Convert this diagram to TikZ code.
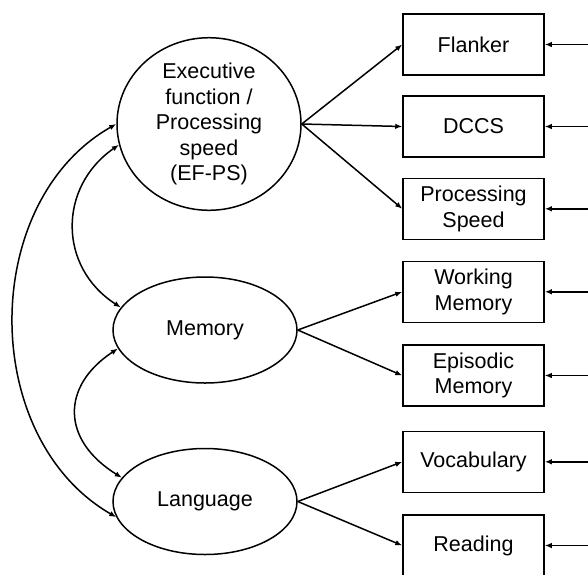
\documentclass[tikz,border=0pt]{standalone}
\usepackage{fontspec}
\setmainfont{Liberation Sans}
\usetikzlibrary{arrows.meta,shapes.geometric}
\begin{document}
\begin{tikzpicture}[x=1pt,y=-1pt,
  line width=1.5pt,
  txt/.style={font=\fontsize{21.5}{25.5}\selectfont, align=center},
  latent/.style={txt, draw, ellipse, inner sep=0pt, minimum width=184, minimum height=106},
  obs/.style={txt, draw, rectangle, inner sep=0pt, minimum width=141, minimum height=61},
  arr/.style={-{Latex[length=7pt,width=5.5pt]}},
  darr/.style={{Latex[length=7pt,width=5.5pt]}-{Latex[length=7pt,width=5.5pt]}}
]
\useasboundingbox (0,0) rectangle (588,574);
\node[latent, minimum height=158] (ef) at (209,124) {Executive\\function /\\Processing\\speed\\(EF-PS)};
\node[latent] (mem) at (205,330) {Memory};
\node[latent] (lang) at (205,501.5) {Language};

\node[obs] (fl) at (473.5,44.5) {Flanker};
\node[obs] (dc) at (473.5,126.5) {DCCS};
\node[obs] (ps) at (473.5,208.8) {Processing\\Speed};
\node[obs] (wm) at (473.5,291.8) {Working\\Memory};
\node[obs] (em) at (473.5,375.5) {Episodic\\Memory};
\node[obs] (vo) at (473.5,461.8) {Vocabulary};
\node[obs] (rd) at (473.5,545.5) {Reading};

\foreach \b in {fl,dc,ps,wm,em,vo,rd}{
  \coordinate (e\b) at (588,0 |- \b.east);
  \draw[arr] (e\b) -- (\b.east);
}
\foreach \b in {fl,dc,ps}{\draw[arr] (ef.east) -- (\b.west);}
\foreach \b in {wm,em}{\draw[arr] (mem.east) -- (\b.west);}
\foreach \b in {vo,rd}{\draw[arr] (lang.east) -- (\b.west);}

\draw[darr] (ef.180) .. controls (-21,202) and (-21,438) .. (lang.190);
\draw[darr] (ef.193) .. controls (58,187) and (58,267) .. (mem.165);
\draw[darr] (mem.192) .. controls (61,386) and (61,440) .. (lang.164);
\end{tikzpicture}
\end{document}
